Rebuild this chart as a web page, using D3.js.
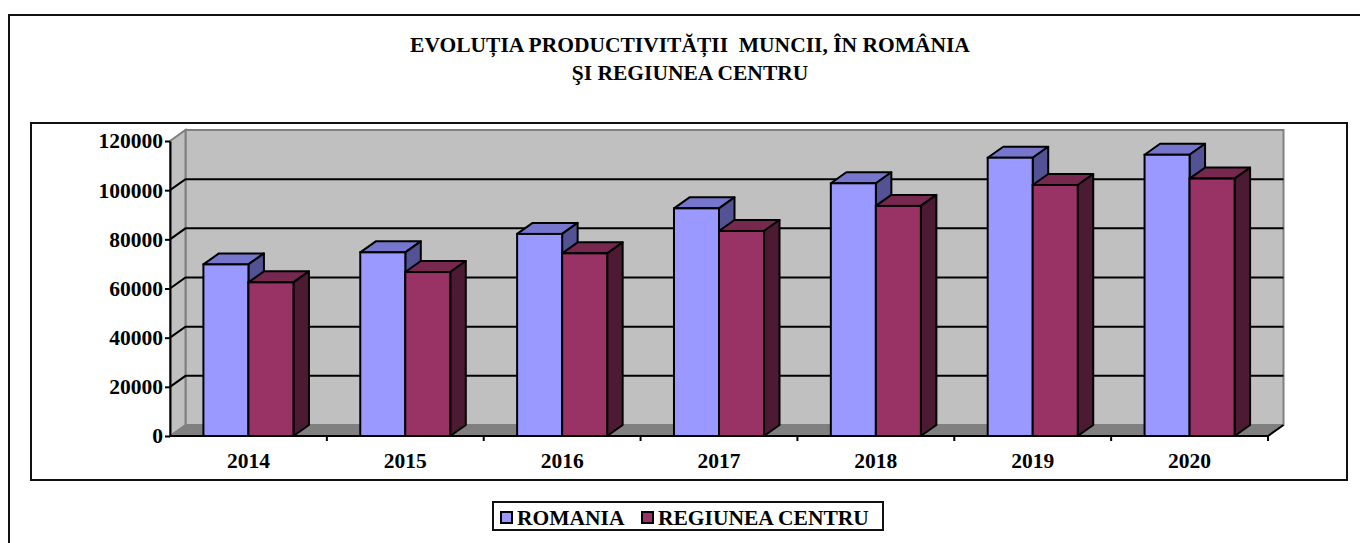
<!DOCTYPE html>
<meta charset="utf-8">
<style>
  body { margin: 0; background: #fff; }
  text { font-family: "Liberation Serif", "Times New Roman", serif; font-weight: bold; fill: #000; white-space: pre; }
</style>
<body>
<script src="https://d3js.org/d3.v7.min.js"></script>
<script>
// data
const years = ["2014", "2015", "2016", "2017", "2018", "2019", "2020"];
const romania = [69800, 74700, 82200, 92600, 102800, 113200, 114400];
const centru = [62500, 66700, 74300, 83400, 93600, 102100, 104700];
const seriesNames = ["ROMANIA", "REGIUNEA CENTRU"];
const yTicks = [0, 20000, 40000, 60000, 80000, 100000, 120000];
const titleLines = ["EVOLUȚIA PRODUCTIVITĂȚII  MUNCII, ÎN ROMÂNIA", "ŞI REGIUNEA CENTRU"];

const frontCol = ["#9999FF", "#993366"],
      topCol = ["#7676CC", "#77284F"],
      sideCol = ["#525294", "#4C1A33"];
const fs = "21.5px";

const svg = d3.select("body").append("svg")
    .attr("width", 1360)
    .attr("height", 543);

// outer frame (runs off the picture right and bottom)
svg.append("rect")
    .attr("x", 9).attr("y", 15)
    .attr("width", 1400).attr("height", 600)
    .attr("fill", "#fff").attr("stroke", "#111").attr("stroke-width", 2);

// title
svg.append("g").selectAll("text")
  .data(titleLines)
  .enter().append("text")
    .attr("x", 690)
    .attr("y", (d, i) => 52 + i * 28)
    .attr("text-anchor", "middle")
    .attr("xml:space", "preserve")
    .style("font-size", fs)
    .text(d => d);

// plot area frame
svg.append("rect")
    .attr("x", 31).attr("y", 123)
    .attr("width", 1316).attr("height", 357)
    .attr("fill", "#fff").attr("stroke", "#111").attr("stroke-width", 2);

// scales
const y = d3.scaleLinear().domain([0, 120000]).range([436, 141]);
const x0 = d3.scaleBand().domain(years).range([170, 1268])
    .paddingInner(0.426).paddingOuter(0.213);
const x1 = d3.scaleBand().domain(seriesNames).range([0, x0.bandwidth()]);
const dx = 15.5, dy = -11;
const left = 170, right = 1268, y0 = y(0), yTop = y(120000);

const poly = pts => "M" + pts.map(p => p.join(",")).join("L") + "Z";

// walls and floor
svg.append("path")
    .attr("d", poly([[left + dx, yTop + dy], [right + dx, yTop + dy], [right + dx, y0 + dy], [left + dx, y0 + dy]]))
    .attr("fill", "#C0C0C0").attr("stroke", "#808080").attr("stroke-width", 2);
svg.append("path")
    .attr("d", poly([[left, yTop], [left + dx, yTop + dy], [left + dx, y0 + dy], [left, y0]]))
    .attr("fill", "#C0C0C0").attr("stroke", "#808080").attr("stroke-width", 2);
svg.append("path")
    .attr("d", poly([[left, y0], [left + dx, y0 + dy], [right + dx, y0 + dy], [right, y0]]))
    .attr("fill", "#808080").attr("stroke", "#808080").attr("stroke-width", 1);

// gridlines on back wall + side wall
const grid = yTicks.filter(v => v > 0 && v < 120000);
svg.append("g").selectAll("path")
  .data(grid)
  .enter().append("path")
    .attr("d", v => "M" + left + "," + y(v) + "L" + (left + dx) + "," + (y(v) + dy) + "L" + (right + dx) + "," + (y(v) + dy))
    .attr("fill", "none").attr("stroke", "#000").attr("stroke-width", 2);

// floor front edges
svg.append("path")
    .attr("d", "M" + left + "," + y0 + "L" + right + "," + y0 + "L" + (right + dx) + "," + (y0 + dy))
    .attr("fill", "none").attr("stroke", "#000").attr("stroke-width", 2);

// bars
const data = years.map((yr, i) => ({year: yr, vals: [romania[i], centru[i]]}));
const groups = svg.append("g").selectAll("g")
  .data(data)
  .enter().append("g")
    .attr("transform", d => "translate(" + x0(d.year) + ",0)");

groups.each(function(d) {
  const g = d3.select(this);
  d.vals.forEach((v, s) => {
    const bx = x1(seriesNames[s]), bw = x1.bandwidth(), by = y(v);
    g.append("path")
        .attr("d", poly([[bx, by], [bx + dx, by + dy], [bx + bw + dx, by + dy], [bx + bw, by]]))
        .attr("fill", topCol[s]).attr("stroke", "#000").attr("stroke-width", 2).attr("stroke-linejoin", "round");
    g.append("path")
        .attr("d", poly([[bx + bw, by], [bx + bw + dx, by + dy], [bx + bw + dx, y0 + dy], [bx + bw, y0]]))
        .attr("fill", sideCol[s]).attr("stroke", "#000").attr("stroke-width", 2).attr("stroke-linejoin", "round");
    g.append("rect")
        .attr("x", bx).attr("y", by)
        .attr("width", bw).attr("height", y0 - by)
        .attr("fill", frontCol[s]).attr("stroke", "#000").attr("stroke-width", 2);
  });
});

// y axis
const yAxis = svg.append("g")
    .attr("transform", "translate(" + left + ",0)")
    .call(d3.axisLeft(y).tickValues(yTicks).tickSize(5).tickSizeOuter(0).tickPadding(2).tickFormat(d3.format("d")));
yAxis.select(".domain").attr("stroke", "#000").attr("stroke-width", 2);
yAxis.selectAll(".tick line").attr("stroke", "#000").attr("stroke-width", 2);
yAxis.selectAll("text").style("font-size", fs).attr("fill", "#000")
    .style("font-family", "'Liberation Serif', serif").style("font-weight", "bold");

// x axis: labels in the middle, ticks at category boundaries
const xAxis = svg.append("g")
    .attr("transform", "translate(0," + y0 + ")")
    .call(d3.axisBottom(x0).tickSize(0).tickPadding(17));
xAxis.select(".domain").remove();
xAxis.selectAll("text").style("font-size", fs).attr("fill", "#000")
    .style("font-family", "'Liberation Serif', serif").style("font-weight", "bold");

const gap = x0.step() - x0.bandwidth();
svg.append("g").selectAll("line")
  .data(years)
  .enter().append("line")
    .attr("x1", d => x0(d) + x0.bandwidth() + gap / 2)
    .attr("x2", d => x0(d) + x0.bandwidth() + gap / 2)
    .attr("y1", y0).attr("y2", y0 + 5)
    .attr("stroke", "#000").attr("stroke-width", 2);

// legend
const legend = svg.append("g");
legend.append("rect")
    .attr("x", 493).attr("y", 502)
    .attr("width", 390).attr("height", 28)
    .attr("fill", "#fff").attr("stroke", "#111").attr("stroke-width", 2);
const legX = [501, 642];
const items = legend.selectAll("g.item")
  .data(seriesNames)
  .enter().append("g").attr("class", "item")
    .attr("transform", (d, i) => "translate(" + legX[i] + ",512)");
items.append("rect")
    .attr("width", 11).attr("height", 11)
    .attr("fill", (d, i) => frontCol[i]).attr("stroke", "#000").attr("stroke-width", 2);
items.append("text")
    .attr("x", 16).attr("y", 13)
    .style("font-size", fs)
    .text(d => d);
</script>
</body>
